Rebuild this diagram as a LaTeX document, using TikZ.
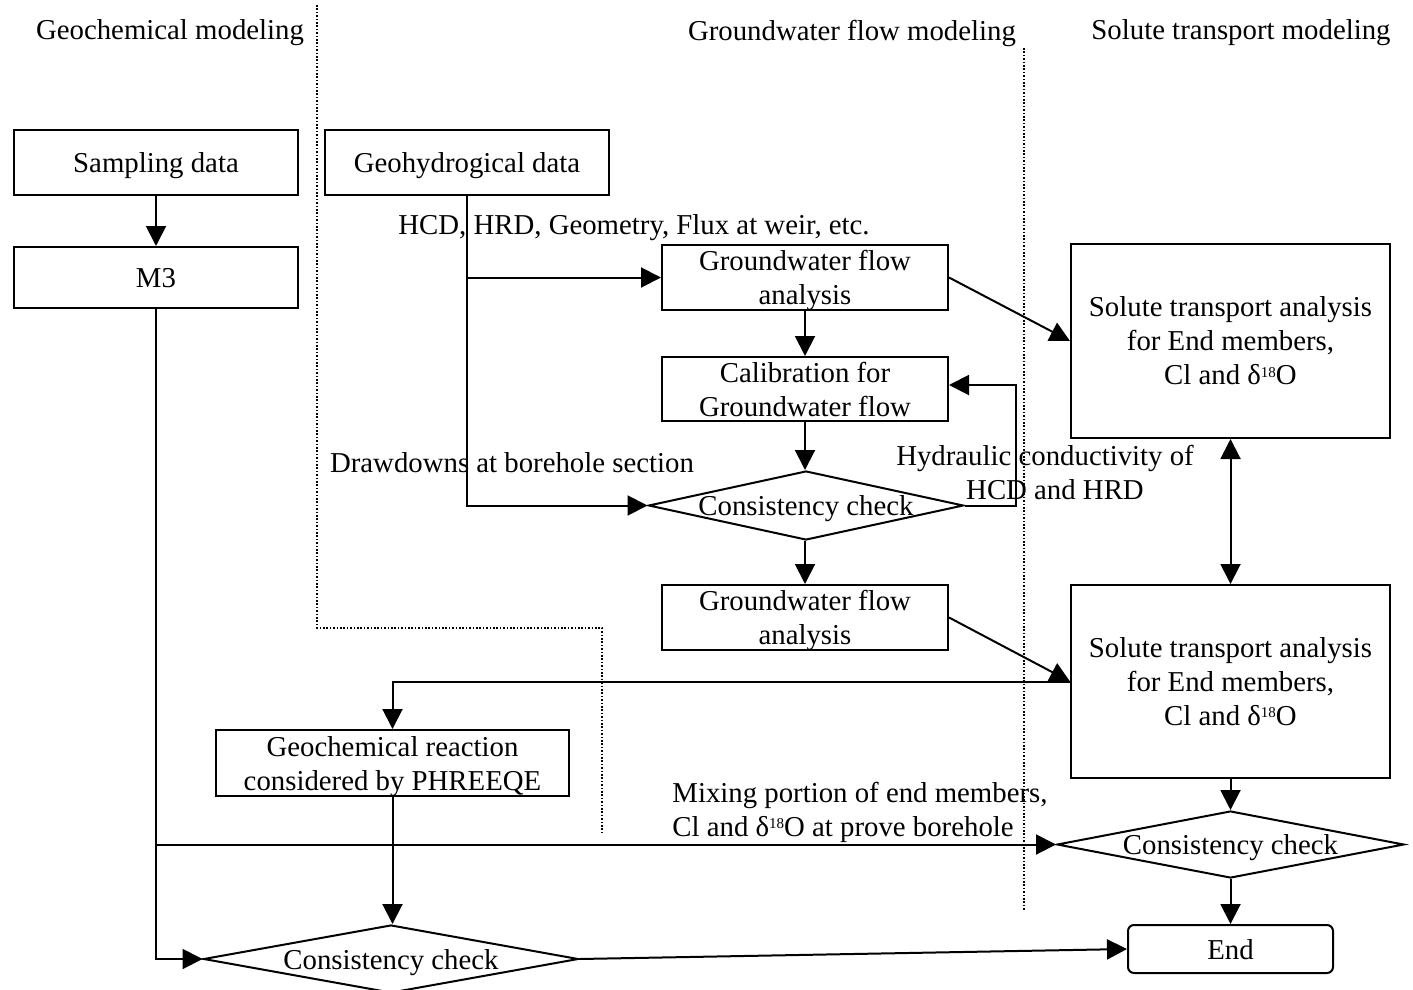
\documentclass[tikz,border=0pt]{standalone}
\usepackage{fontspec}
\setmainfont{Liberation Serif}
\usetikzlibrary{arrows.meta,shapes.geometric}
\newcommand{\dso}{δ\raisebox{0.6ex}{\fontsize{7.5}{7.5}\selectfont 18}O}
\begin{document}
\begin{tikzpicture}[x=0.5pt,y=-0.5pt,
  every node/.style={font=\fontsize{14.4}{17}\selectfont},
  box/.style={draw, line width=1pt, fill=white, inner sep=0pt, align=center, text depth=0pt},
  dia/.style={draw, diamond, aspect=1, line width=1pt, fill=white, inner sep=0pt, text depth=0pt},
  arr/.style={line width=1pt, -{Triangle[length=10pt,width=10pt]}},
  darr/.style={line width=1pt, {Triangle[length=10pt,width=10pt]}-{Triangle[length=10pt,width=10pt]}},
  ln/.style={line width=1pt},
  sep/.style={line width=0.8pt, dash pattern=on 0.8pt off 0.9pt},
  lbl/.style={inner sep=0pt, align=center}]
\useasboundingbox (0,0) rectangle (1413,990);
\fill[white] (0,0) rectangle (1413,990);

% headers
\node[lbl] (h1) at (170,33) {Geochemical modeling};
\node[lbl] (h2) at (852,33) {Groundwater flow modeling};
\node[lbl] (h3) at (1241,33) {Solute transport modeling};

% dotted separators
\draw[sep] (317,5) -- (317,628) -- (602,628) -- (602,832);
\draw[sep] (1024,48) -- (1024,910);

% boxes
\node[box, minimum width=142pt, minimum height=32.5pt] (samp) at (156,162.5) {Sampling data};
\node[box, minimum width=142pt, minimum height=30.5pt] (m3) at (156,277.5) {M3};
\node[box, minimum width=142pt, minimum height=32.5pt] (geo) at (467,162.5) {Geohydrogical data};
\node[box, minimum width=143pt, minimum height=32.5pt] (gfa1) at (805,277.5) {Groundwater flow\\analysis};
\node[box, minimum width=143pt, minimum height=32pt] (cal) at (805,389) {Calibration for\\Groundwater flow};
\node[dia, minimum width=157.5pt, minimum height=34.5pt] (d1) at (806,505.5) {\makebox[0pt]{Consistency check}};
\node[box, minimum width=143pt, minimum height=32.5pt] (gfa2) at (805,617.5) {Groundwater flow\\analysis};
\node[box, minimum width=159.5pt, minimum height=97pt] (sol1) at (1230.5,341) {Solute transport analysis\\for End members,\\Cl and \dso};
\node[box, minimum width=159.5pt, minimum height=96.5pt] (sol2) at (1230.5,681.5) {Solute transport analysis\\for End members,\\Cl and \dso};
\node[box, minimum width=176.5pt, minimum height=33pt] (geor) at (392.5,763) {Geochemical reaction\\considered by PHREEQE};
\node[dia, minimum width=173.5pt, minimum height=33.5pt] (d2) at (1230.5,844.5) {\makebox[0pt]{Consistency check}};
\node[dia, minimum width=187.5pt, minimum height=34pt] (d3) at (391,959) {\makebox[0pt]{Consistency check}};
\node[box, rounded corners=3pt, minimum width=102.5pt, minimum height=24pt] (end) at (1230.5,949) {End};

% labels
\node[lbl] (lhcd) at (634,228) {HCD, HRD, Geometry, Flux at weir, etc.};
\node[lbl] (ldd) at (512,463) {Drawdowns at borehole section};
\node[lbl] (lhyd) at (1045,472) {Hydraulic conductivity of\\\hspace*{10pt}HCD and HRD};
\node[lbl, anchor=west, align=left] (lmix) at (672,812) {Mixing portion of end members,\\Cl and \dso{} at prove borehole};

% connectors
\coordinate (lp) at (1016,0);
\draw[arr] (samp) -- (m3);
\draw[arr] (geo.south) |- (d1.west);
\draw[arr] (geo.south |- gfa1.west) -- (gfa1.west);
\draw[arr] (gfa1) -- (cal);
\draw[arr] (cal.south) -- (cal.south |- d1.north);
\draw[arr] (d1.east) -- (d1.east -| lp) |- ([yshift=2pt]cal.east);
\draw[arr] (d1.south -| gfa2.north) -- (gfa2.north);
\draw[arr] (gfa1.east) -- (sol1.west);
\draw[arr] (gfa2.east) -- (sol2.west);
\draw[darr] (sol1.south) -- (sol2.north);
\draw[arr] (sol2.west) -| (geor.north);
\draw[arr] (geor.south) -- (geor.south |- d3.north);
\draw[arr] (m3.south) |- (d3.west);
\draw[arr] (m3.south |- d2.west) -- (d2.west);
\draw[arr] (sol2.south) -- (d2.north);
\draw[arr] (d2.south) -- (end.north);
\draw[arr] (d3.east) -- (end.west);
\end{tikzpicture}
\end{document}
